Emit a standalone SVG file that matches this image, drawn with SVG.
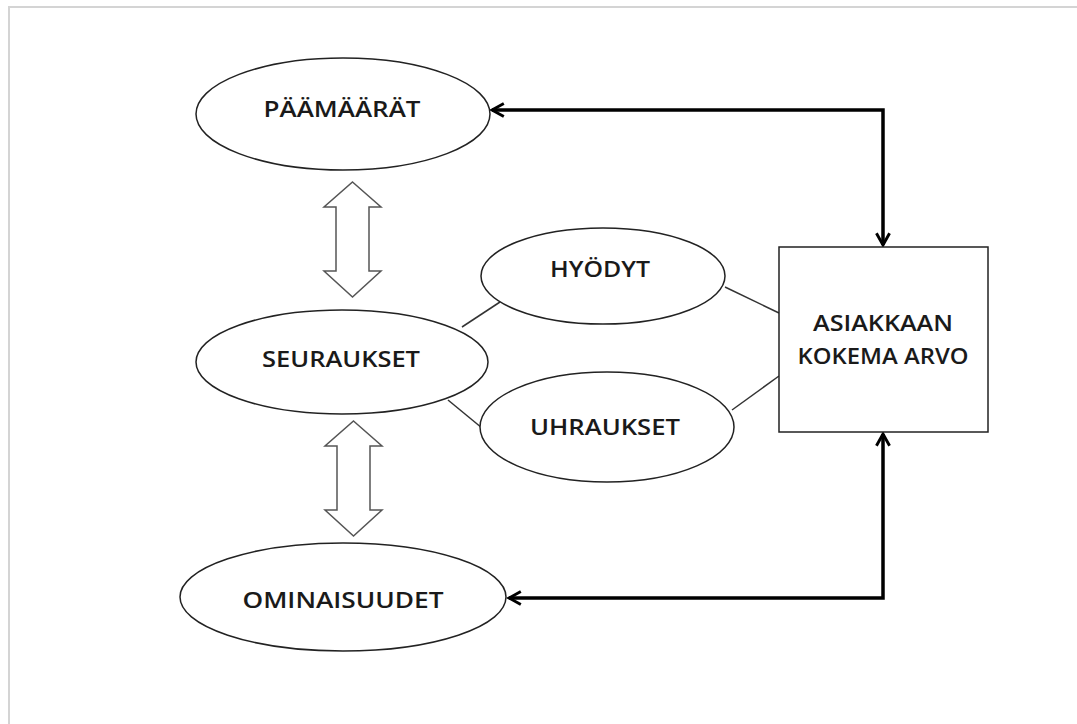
<svg xmlns="http://www.w3.org/2000/svg" width="1077" height="724" viewBox="0 0 1077 724">
<defs>
<style>
.frame{fill:none;stroke:#d4d4d4;stroke-width:2}
.shape{fill:#fff;stroke:#222;stroke-width:1.5}
.lbl{font-family:"Open Sans","Liberation Sans",sans-serif;font-size:21px;font-weight:600;fill:#1a1a1a;text-anchor:middle}
.thin{stroke:#333;stroke-width:1.5;fill:none}
.thick{stroke:#000;stroke-width:3.5;fill:none;marker-start:url(#ah);marker-end:url(#ah)}
.block{fill:#fff;stroke:#555;stroke-width:1.5;stroke-linejoin:miter}
</style>
<marker id="ah" viewBox="0 0 12 12" refX="10" refY="6" markerWidth="4.5" markerHeight="4.5" orient="auto-start-reverse" markerUnits="strokeWidth">
<path d="M1,1 L10,6 L1,11" fill="none" stroke="#000" stroke-width="2.2"/>
</marker>
</defs>
<rect class="frame" x="9" y="7" width="1100" height="740"/>
<g id="connectors">
<line class="thin" x1="462" y1="327" x2="500" y2="302"/>
<line class="thin" x1="725" y1="287" x2="779" y2="313"/>
<line class="thin" x1="448" y1="400" x2="482" y2="428"/>
<line class="thin" x1="732" y1="410" x2="779" y2="376"/>
<polyline class="thick" points="492,110 883,110 883,245"/>
<polyline class="thick" points="883,434 883,598 509,598"/>
<path class="block" d="M352.5,182 L381,207 L369,207 L369,271 L381,271 L352.5,297 L324,271 L336,271 L336,207 L324,207 Z"/>
<path class="block" d="M353.5,421 L382,446 L370,446 L370,510 L382,510 L353.5,536 L325,510 L337,510 L337,446 L325,446 Z"/>
</g>
<g id="paamaarat">
<ellipse class="shape" cx="343" cy="114" rx="147" ry="56"/>
<text class="lbl" x="342" y="117" textLength="157" lengthAdjust="spacingAndGlyphs">PÄÄMÄÄRÄT</text>
</g>
<g id="seuraukset">
<ellipse class="shape" cx="342" cy="362" rx="146" ry="52"/>
<text class="lbl" x="341" y="367" textLength="158" lengthAdjust="spacingAndGlyphs">SEURAUKSET</text>
</g>
<g id="ominaisuudet">
<ellipse class="shape" cx="343" cy="597" rx="163" ry="54"/>
<text class="lbl" x="343" y="608" textLength="201" lengthAdjust="spacingAndGlyphs">OMINAISUUDET</text>
</g>
<g id="hyodyt">
<ellipse class="shape" cx="603" cy="276" rx="122" ry="48"/>
<text class="lbl" x="600" y="277" textLength="100" lengthAdjust="spacingAndGlyphs">HYÖDYT</text>
</g>
<g id="uhraukset">
<ellipse class="shape" cx="607" cy="427" rx="127" ry="55"/>
<text class="lbl" x="605" y="435" textLength="150" lengthAdjust="spacingAndGlyphs">UHRAUKSET</text>
</g>
<g id="asiakkaan">
<rect class="shape" x="779" y="247" width="209" height="185"/>
<text class="lbl" x="883" y="331" textLength="140" lengthAdjust="spacingAndGlyphs">ASIAKKAAN</text>
<text class="lbl" x="883" y="364" textLength="171" lengthAdjust="spacingAndGlyphs">KOKEMA ARVO</text>
</g>
</svg>
